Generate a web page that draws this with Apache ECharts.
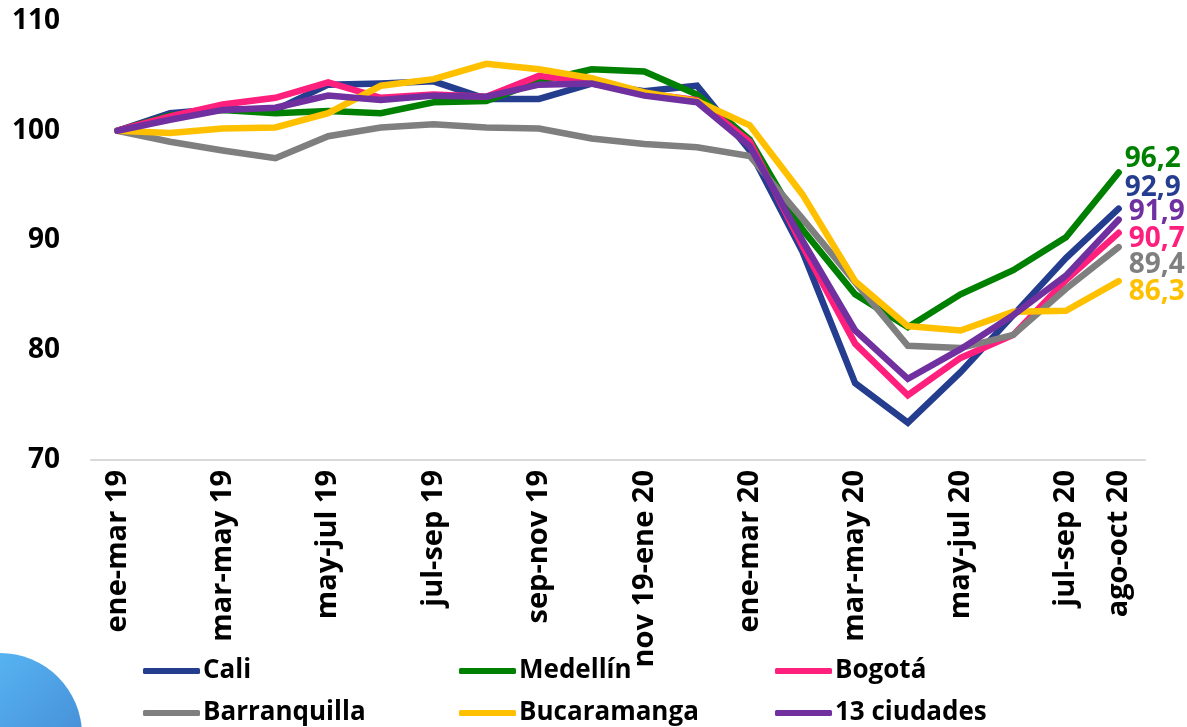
<!DOCTYPE html>
<html>
<head>
<meta charset="utf-8">
<style>
  html, body { margin: 0; padding: 0; background: #fff; }
  #main { width: 1187px; height: 727px; }
</style>
<script src="https://cdn.jsdelivr.net/npm/echarts@6/dist/echarts.min.js"></script>
</head>
<body>
<div id="main"></div>
<script>
var periods = ['ene-mar 19', 'feb-abr 19', 'mar-may 19', 'abr-jun 19', 'may-jul 19', 'jun-ago 19', 'jul-sep 19', 'ago-oct 19', 'sep-nov 19', 'oct-dic 19',
  'nov 19-ene 20', 'dic 19-feb 20', 'ene-mar 20', 'feb-abr 20', 'mar-may 20', 'abr-jun 20', 'may-jul 20', 'jun-ago 20', 'jul-sep 20', 'ago-oct 20'];
var cali = [100, 101.6, 102, 101.9, 104.2, 104.3, 104.5, 102.9, 102.9, 104.3, 103.6, 104.1, 98.2, 89, 77, 73.4, 78, 83.2, 88.4, 92.9];
var medellin = [100, 101.4, 101.9, 101.6, 101.8, 101.6, 102.6, 102.7, 104.5, 105.6, 105.4, 103.3, 99.2, 91, 85.1, 82.1, 85.1, 87.3, 90.3, 96.2];
var bogota = [100, 101.3, 102.4, 103, 104.4, 103, 103.3, 103.1, 105, 104.4, 103.4, 102.8, 99, 89.5, 80.6, 75.9, 79.3, 81.4, 86.4, 90.7];
var barranquilla = [100, 99, 98.2, 97.5, 99.5, 100.3, 100.6, 100.3, 100.2, 99.3, 98.8, 98.5, 97.7, 92, 86.2, 80.4, 80.2, 81.4, 85.6, 89.4];
var bucaramanga = [100, 99.8, 100.2, 100.3, 101.6, 104.1, 104.7, 106.1, 105.6, 104.8, 103.5, 102.7, 100.5, 94.2, 86.3, 82.2, 81.8, 83.5, 83.6, 86.3];
var ciudades = [100, 101, 101.9, 102.1, 103.2, 102.8, 103.2, 103.1, 104.2, 104.3, 103.2, 102.6, 98.6, 90, 81.8, 77.4, 80.1, 83.2, 86.8, 91.9];

var fontName = '"Open Sans"';
var myChart = echarts.init(document.getElementById('main'));

function makeSeries(name, values, color, labelOffset) {
  return {
    name: name,
    type: 'line',
    data: values,
    symbol: 'none',
    smooth: false,
    lineStyle: { color: color, width: 6.5, cap: 'round', join: 'miter' },
    itemStyle: { color: color },
    endLabel: {
      show: true,
      color: color,
      fontFamily: fontName,
      fontWeight: 'bold',
      fontSize: 28,
      offset: labelOffset,
      formatter: function (p) {
        return String(p.value).replace('.', ',');
      }
    }
  };
}

function makeLegend(left, names) {
  return {
    left: left,
    top: 658,
    height: 69,
    orient: 'vertical',
    icon: 'roundRect',
    itemWidth: 57,
    itemHeight: 6,
    itemGap: 16,
    padding: 0,
    textStyle: { color: '#000', fontFamily: fontName, fontWeight: 'bold', fontSize: 26, padding: [0, 0, 0, -2] },
    data: names
  };
}

var option = {
  animation: false,
  backgroundColor: '#fff',
  grid: { left: 91, right: 42, top: 21, bottom: 267 },
  legend: [
    makeLegend(143, ['Cali', 'Barranquilla']),
    makeLegend(459, ['Medellín', 'Bucaramanga']),
    makeLegend(775, ['Bogotá', '13 ciudades'])
  ],
  xAxis: {
    type: 'category',
    data: periods,
    boundaryGap: true,
    axisTick: { show: false },
    axisLine: { lineStyle: { color: '#d9d9d9', width: 2 } },
    axisLabel: {
      rotate: 90,
      margin: 10,
      color: '#000',
      fontFamily: fontName,
      fontWeight: 'bold',
      fontSize: 29,
      interval: function (i) {
        return i % 2 === 0 || i === periods.length - 1;
      }
    }
  },
  yAxis: {
    type: 'value',
    min: 70,
    max: 110,
    interval: 10,
    axisLine: { show: false },
    axisTick: { show: false },
    splitLine: { show: false },
    axisLabel: {
      margin: 31,
      color: '#000',
      fontFamily: fontName,
      fontWeight: 'bold',
      fontSize: 28
    }
  },
  graphic: [{
    type: 'circle',
    shape: { cx: 0, cy: 735, r: 82 },
    silent: true,
    style: {
      fill: new echarts.graphic.LinearGradient(0, 0, 1, 1, [
        { offset: 0, color: '#5ec4ff' },
        { offset: 1, color: '#3f7fcb' }
      ])
    }
  }],
  series: [
    makeSeries('Cali', cali, '#253d8f', [-2, -21]),
    makeSeries('Medellín', medellin, '#008000', [-2, -13]),
    makeSeries('Bogotá', bogota, '#ff1f7d', [2, 6]),
    makeSeries('Barranquilla', barranquilla, '#7f7f7f', [2, 18]),
    makeSeries('Bucaramanga', bucaramanga, '#ffc000', [2, 11]),
    makeSeries('13 ciudades', ciudades, '#7030a0', [2, -8])
  ]
};
myChart.setOption(option);
</script>
</body>
</html>
